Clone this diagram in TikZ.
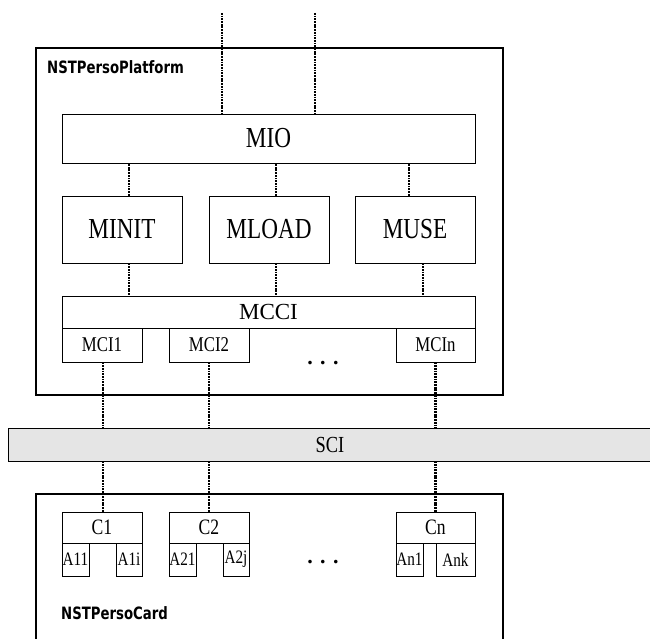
\documentclass[tikz,border=0pt]{standalone}
\usepackage{fontspec}
\setmainfont{Liberation Serif}
\newfontfamily\narrowserif[FakeStretch=0.8]{Liberation Serif}
\newfontfamily\groupsans[FakeStretch=0.78]{DejaVu Sans}
\usepackage{tikz}

\begin{document}
\begin{tikzpicture}[
		x=1pt, y=-1pt,
		frame/.style={draw, line width=2pt, inner sep=0pt},
		box/.style={draw, line width=0.8pt, inner sep=0pt},
		big/.style={box, font=\narrowserif\fontsize{29}{31}\selectfont},
		mid/.style={box, font=\narrowserif\fontsize{23}{25}\selectfont},
		small/.style={box, font=\narrowserif\fontsize{21}{23}\selectfont},
		tiny/.style={box, font=\narrowserif\fontsize{19}{21}\selectfont},
		group/.style={font=\groupsans\bfseries\fontsize{17}{19}\selectfont, anchor=west, inner sep=0pt},
		more/.style={font=\bfseries\fontsize{22}{24}\selectfont, inner sep=0pt},
		link/.style={line width=2.2pt, dash pattern=on 1.8pt off 0.9pt}]
	\useasboundingbox (0,0) rectangle (650,639);
	%% platform
	\node (platform) at (269.5,221.5) [frame, minimum width=467, minimum height=347] {};
	\node (platformname) at (47,67) [group] {NSTPersoPlatform};
	\node (mio) at (268.5,138.5) [big, minimum width=413, minimum height=49] {MIO};
	\node (minit) at (122,229.5) [big, minimum width=120, minimum height=67] {MINIT};
	\node (mload) at (269,229.5) [big, minimum width=120, minimum height=67] {MLOAD};
	\node (muse) at (415,229.5) [big, minimum width=120, minimum height=67] {MUSE};
	\node (mcci) at (268.5,312) [box, font=\fontsize{23}{25}\selectfont, minimum width=413, minimum height=32] {MCCI};
	\node (mci1) at (102,345) [small, minimum width=80, minimum height=34] {MCI1};
	\node (mci2) at (209,345) [small, minimum width=80, minimum height=34] {MCI2};
	\node (mcin) at (435.5,345) [small, minimum width=79, minimum height=34] {MCIn};
	\node (mcidots) at (323,363) [more] {. . .};
	%% serial bus
	\node (sci) at (330,444.5) [mid, fill=black!10, minimum width=644, minimum height=33] {SCI};
	%% card
	\node (card) at (269.5,569.5) [frame, minimum width=467, minimum height=151] {};
	\node (cardname) at (61,613) [group] {NSTPersoCard};
	\node (c1) at (102,527.5) [tiny, font=\narrowserif\fontsize{22}{24}\selectfont, minimum width=80, minimum height=31] {C1};
	\node (c2) at (209,527.5) [tiny, font=\narrowserif\fontsize{22}{24}\selectfont, minimum width=80, minimum height=31] {C2};
	\node (cn) at (435.5,527.5) [tiny, font=\narrowserif\fontsize{22}{24}\selectfont, minimum width=79, minimum height=31] {Cn};
	\node (a11) at (75.5,559.5) [tiny, minimum width=27, minimum height=33] {A11};
	\node (a1i) at (129,559.5) [tiny, minimum width=26, minimum height=33] {A1i};
	\node (a21) at (182.5,559.5) [tiny, minimum width=27, minimum height=33] {A21};
	\node (a2j) at (236,559.5) [tiny, minimum width=26, minimum height=33] {A2j};
	\node (an1) at (409.5,559.5) [tiny, minimum width=27, minimum height=33] {An1};
	\node (ank) at (455.5,559.5) [tiny, minimum width=39, minimum height=33] {Ank};
	\node (cdots) at (323,562) [more] {. . .};
	%% external inputs
	\coordinate (in1) at (222,13);
	\coordinate (in2) at (315,13);
	\draw[link] (in1) -- (in1 |- mio.north);
	\draw[link] (in2) -- (in2 |- mio.north);
	%% platform links
	\draw[link] ([xshift=7pt]minit.north) -- ([xshift=7pt]minit.north |- mio.south);
	\draw[link] ([xshift=7pt]mload.north) -- ([xshift=7pt]mload.north |- mio.south);
	\draw[link] ([xshift=-6pt]muse.north) -- ([xshift=-6pt]muse.north |- mio.south);
	\draw[link] ([xshift=7pt]minit.south) -- ([xshift=7pt]minit.south |- mcci.north);
	\draw[link] ([xshift=7pt]mload.south) -- ([xshift=7pt]mload.south |- mcci.north);
	\draw[link] ([xshift=8pt]muse.south) -- ([xshift=8pt]muse.south |- mcci.north);
	%% bus links
	\draw[link] ([xshift=1pt]mci1.south) -- ([xshift=1pt]mci1.south |- sci.north);
	\draw[link] (mci2.south) -- (mci2.south |- sci.north);
	\draw[link] (mcin.south) -- (mcin.south |- sci.north);
	\draw[link] ([xshift=1pt]c1.north) -- ([xshift=1pt]c1.north |- sci.south);
	\draw[link] (c2.north) -- (c2.north |- sci.south);
	\draw[link] (cn.north) -- (cn.north |- sci.south);
\end{tikzpicture}
\end{document}
